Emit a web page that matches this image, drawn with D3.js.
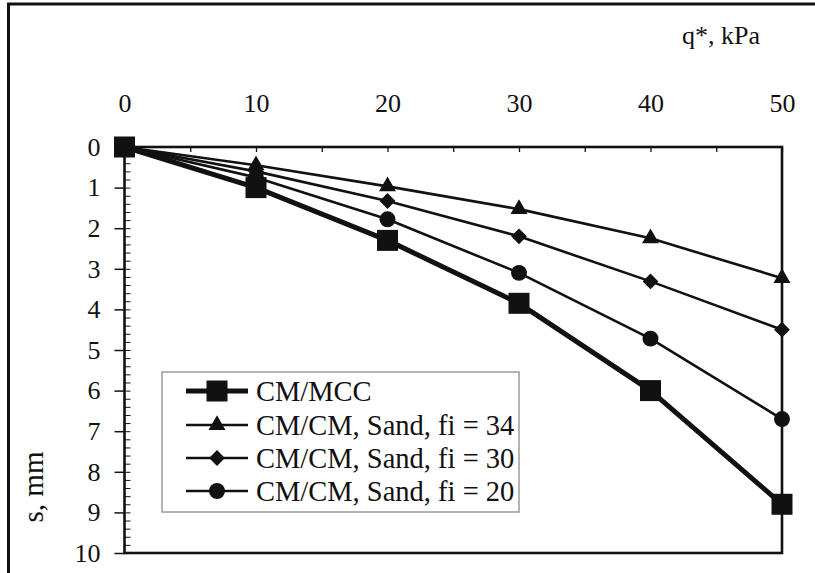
<!DOCTYPE html>
<html>
<head>
<meta charset="utf-8">
<script src="https://cdn.jsdelivr.net/npm/d3@7"></script>
<style>
  html, body { margin: 0; padding: 0; background: #fff; }
  svg { display: block; }
  text { font-family: "Liberation Serif", "Times New Roman", serif; fill: #111; }
</style>
</head>
<body>
<svg id="chart" width="815" height="573"></svg>
<script>
// ---- data ----
const loads = [0, 10, 20, 30, 40, 50];                 // q*, kPa
const xTickLabels = [0, 10, 20, 30, 40, 50];
const yTickLabels = [0, 1, 2, 3, 4, 5, 6, 7, 8, 9, 10];
const seriesNames = ["CM/MCC", "CM/CM, Sand, fi = 34", "CM/CM, Sand, fi = 30", "CM/CM, Sand, fi = 20"];
const cmMcc   = [0, 1.0, 2.3, 3.85, 6.0, 8.8];
const sand34  = [0, 0.45, 0.97, 1.53, 2.25, 3.23];
const sand30  = [0, 0.6, 1.33, 2.2, 3.31, 4.5];
const sand20  = [0, 0.75, 1.78, 3.1, 4.72, 6.7];

const seriesValues = [cmMcc, sand34, sand30, sand20];
const seriesStyle = [
  { marker: "square",   width: 5,   size: 441 },
  { marker: "triangle", width: 2.6, size: 125 },
  { marker: "diamond",  width: 2.6, size: 125 },
  { marker: "circle",   width: 2.6, size: 200 }
];

const svg = d3.select("#chart");
const ink = "#111";
const FS = 26;
const LFS = 28.5;

// frame border (cropped image: top & left)
svg.append("path").attr("d", "M8.5,573 V4 H815")
  .attr("fill", "none").attr("stroke", ink).attr("stroke-width", 3);

const x = d3.scaleLinear().domain([0, 50]).range([124.5, 782]);
const y = d3.scaleLinear().domain([0, 10]).range([147, 553]);

// plot frame
svg.append("rect")
  .attr("x", x(0)).attr("y", y(0))
  .attr("width", x(50) - x(0)).attr("height", y(10) - y(0))
  .attr("fill", "none").attr("stroke", ink).attr("stroke-width", 2.6);

// top axis (ticks every 5 pointing inward, labels at 10s)
const xAxis = d3.axisTop(x)
  .tickValues(d3.range(0, 51, 5))
  .tickSize(-5)
  .tickPadding(35)
  .tickFormat(d => xTickLabels.includes(d) ? String(d) : "");
const gx = svg.append("g").attr("transform", `translate(0,${y(0)})`).call(xAxis);
gx.select(".domain").remove();
gx.selectAll("line").attr("stroke", ink).attr("stroke-width", 1.3);
gx.selectAll("text").style("font-size", FS + "px").attr("fill", ink);

// left axis major ticks (outside) with labels
const yAxis = d3.axisLeft(y).tickValues(yTickLabels).tickSize(10).tickPadding(14).tickFormat(d3.format("d"));
const gy = svg.append("g").attr("transform", `translate(${x(0)},0)`).call(yAxis);
gy.select(".domain").remove();
gy.selectAll("line").attr("stroke", ink).attr("stroke-width", 1.5);
gy.selectAll("text").style("font-size", FS + "px").attr("fill", ink);

// left axis minor ticks (inside)
const yMinor = d3.axisRight(y).tickValues(d3.range(0, 10.001, 0.2)).tickSize(6).tickFormat("");
const gym = svg.append("g").attr("transform", `translate(${x(0)},0)`).call(yMinor);
gym.select(".domain").remove();
gym.selectAll("line").attr("stroke", ink).attr("stroke-width", 1);

// axis titles
svg.append("text").attr("x", 760).attr("y", 44).attr("text-anchor", "end")
  .style("font-size", FS + "px").text("q*, kPa");
svg.append("text").attr("transform", "translate(43,487) rotate(-90)")
  .attr("text-anchor", "middle").style("font-size", "29px").text("s, mm");

// markers
function symbolFor(st) {
  if (st.marker === "square") return d3.symbol(d3.symbolSquare, st.size)();
  if (st.marker === "triangle") return d3.symbol(d3.symbolTriangle, st.size)();
  if (st.marker === "diamond") return d3.symbol(d3.symbolSquare, st.size)();
  return d3.symbol(d3.symbolCircle, st.size)();
}
function rot(st) { return st.marker === "diamond" ? " rotate(45)" : ""; }

const line = d3.line().x((d, i) => x(loads[i])).y(d => y(d));

const drawOrder = [1, 2, 3, 0];
drawOrder.forEach(k => {
  const vals = seriesValues[k], st = seriesStyle[k];
  svg.append("path").datum(vals).attr("d", line)
    .attr("fill", "none").attr("stroke", ink).attr("stroke-width", st.width)
    .attr("stroke-linejoin", "round");
});
drawOrder.forEach(k => {
  const vals = seriesValues[k], st = seriesStyle[k];
  svg.append("g").selectAll("path").data(vals).join("path")
    .attr("d", symbolFor(st))
    .attr("transform", (d, i) => `translate(${x(loads[i])},${y(d)})${rot(st)}`)
    .attr("fill", ink);
});

// legend
const lg = svg.append("g");
lg.append("rect").attr("x", 162).attr("y", 372).attr("width", 357).attr("height", 140)
  .attr("fill", "#fff").attr("stroke", "#9a9a9a").attr("stroke-width", 1.5);
const rowY = [391, 425, 458, 491];
seriesNames.forEach((name, k) => {
  const st = seriesStyle[k];
  const ry = rowY[k];
  lg.append("line").attr("x1", 186).attr("x2", 248).attr("y1", ry).attr("y2", ry)
    .attr("stroke", ink).attr("stroke-width", st.width);
  lg.append("path").attr("d", symbolFor(st))
    .attr("transform", `translate(217,${ry})${rot(st)}`).attr("fill", ink);
  lg.append("text").attr("x", 256).attr("y", ry).attr("dy", "0.35em")
    .style("font-size", LFS + "px").text(name);
});
</script>
</body>
</html>
